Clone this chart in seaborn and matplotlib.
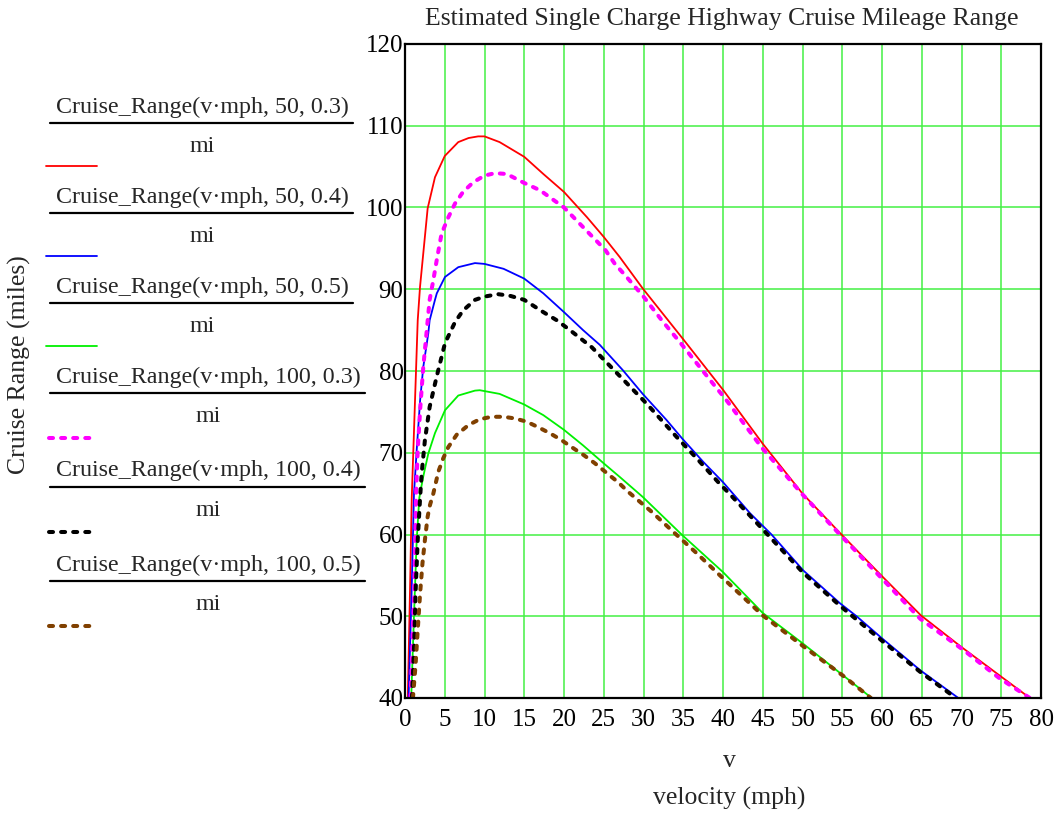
import matplotlib
matplotlib.use("Agg")
import matplotlib.pyplot as plt
import seaborn as sns
import pandas as pd
from matplotlib.lines import Line2D

# ---------------- data ----------------
title = "Estimated Single Charge Highway Cruise Mileage Range"
x_label_top = "v"
x_label = "velocity (mph)"
y_label = "Cruise Range (miles)"
x_ticks = list(range(0, 81, 5))
y_ticks = list(range(40, 121, 10))
unit_label = "mi"
series_labels = [
    "Cruise_Range(v\u00b7mph, 50, 0.3)",
    "Cruise_Range(v\u00b7mph, 50, 0.4)",
    "Cruise_Range(v\u00b7mph, 50, 0.5)",
    "Cruise_Range(v\u00b7mph, 100, 0.3)",
    "Cruise_Range(v\u00b7mph, 100, 0.4)",
    "Cruise_Range(v\u00b7mph, 100, 0.5)",
]

red_x = [0.35, 0.63, 0.85, 1.26, 1.6, 1.89, 2.3, 2.85, 3.77, 5.0, 6.7, 8.0, 9.2, 10.0, 11.9,
         15.0, 17.4, 20.0, 22.9, 25.0, 27.0, 29.9, 34.9, 40.0, 45.0, 50.0, 54.8, 59.9, 64.9,
         69.9, 75.0, 78.6]
red_y = [40.0, 53.2, 64.5, 76.4, 86.2, 90.3, 94.4, 99.9, 103.7, 106.3, 108.0, 108.5, 108.7,
         108.7, 108.0, 106.2, 104.1, 101.9, 98.8, 96.4, 93.95, 90.1, 84.0, 77.7, 71.1, 65.0,
         60.1, 55.0, 50.1, 46.3, 42.6, 40.0]

blue_x = [0.45, 0.84, 1.13, 1.47, 1.9, 2.3, 2.93, 3.1, 3.77, 4.0, 5.03, 6.7, 8.8, 10.0, 12.4,
          15.0, 17.4, 20.0, 22.4, 24.5, 27.4, 29.9, 32.9, 34.9, 37.5, 40.0, 43.4, 46.1, 50.1,
          54.7, 56.8, 60.0, 64.8, 69.6]
blue_y = [40.0, 53.2, 65.0, 70.3, 76.4, 80.5, 84.6, 86.2, 88.7, 89.5, 91.5, 92.7, 93.2, 93.1,
          92.5, 91.3, 89.5, 87.2, 85.0, 83.2, 80.1, 77.2, 74.0, 71.7, 68.9, 66.4, 62.6, 60.0,
          55.6, 51.6, 50.0, 47.3, 43.4, 40.0]

green_x = [0.78, 1.17, 1.47, 1.8, 2.3, 2.93, 3.77, 5.03, 6.7, 8.8, 9.4, 11.9, 15.0, 17.4,
           20.0, 22.4, 25.0, 27.0, 29.9, 34.9, 40.0, 45.0, 50.0, 54.8, 58.7]
green_y = [40.0, 51.2, 59.3, 64.5, 67.1, 69.9, 72.4, 75.2, 77.0, 77.6, 77.65, 77.2, 75.9, 74.6,
           72.8, 70.9, 68.7, 67.05, 64.6, 59.9, 55.4, 50.4, 46.7, 43.0, 40.0]

magenta_x = [0.7, 1.17, 1.4, 1.6, 1.9, 2.3, 2.7, 3.1, 3.56, 3.98, 4.6, 5.45, 6.3, 7.3, 8.6,
             10.0, 11.3, 12.8, 15.0, 17.0, 20.0, 22.6, 25.2, 26.4, 27.7, 30.0, 32.3, 34.6,
             36.9, 39.2, 40.3, 44.9, 50.0, 54.7, 60.2, 64.8, 70.2, 74.8, 78.6]
magenta_y = [40.0, 53.2, 65.0, 70.3, 75.2, 80.5, 84.6, 88.7, 91.1, 93.5, 96.8, 98.8, 100.5,
             101.9, 103.1, 103.9, 104.2, 104.1, 103.0, 102.1, 100.0, 97.4, 94.8, 93.1, 91.7,
             89.1, 86.2, 83.5, 80.7, 77.9, 76.6, 70.6, 64.9, 60.0, 54.4, 49.7, 45.9, 42.4, 40.0]

black_x = [0.88, 1.17, 1.34, 1.6, 1.9, 2.1, 2.5, 3.1, 3.98, 5.03, 6.3, 7.3, 8.8, 10.0, 11.7,
           13.2, 15.0, 17.4, 19.1, 20.75, 23.5, 24.9, 27.5, 30.4, 34.2, 36.9, 39.4, 40.7, 43.4,
           50.1, 54.7, 60.0, 64.8, 69.3]
black_y = [40.0, 47.1, 53.2, 59.3, 64.5, 67.5, 71.5, 75.6, 79.3, 83.4, 86.0, 87.4, 88.7, 89.1,
           89.4, 89.2, 88.7, 87.2, 86.2, 85.0, 82.9, 81.5, 78.9, 76.0, 71.9, 69.1, 66.4, 65.1,
           62.3, 55.3, 51.3, 47.0, 43.2, 40.0]

brown_x = [1.0, 1.34, 1.6, 1.9, 2.2, 2.5, 2.85, 3.14, 3.56, 4.2, 4.8, 5.45, 6.5, 8.0, 9.4, 10.9,
           12.4, 13.8, 15.3, 16.6, 18.2, 19.6, 21.1, 22.5, 23.9, 25.4, 26.8, 28.1, 31.0, 34.0,
           36.7, 39.4, 45.0, 50.0, 55.0, 58.6]
brown_y = [40.0, 44.2, 48.3, 52.8, 56.5, 59.3, 62.2, 63.6, 65.0, 67.7, 69.3, 70.7, 72.2, 73.4,
           74.1, 74.4, 74.4, 74.2, 73.8, 73.2, 72.4, 71.6, 70.6, 69.7, 68.7, 67.5, 66.4, 65.2,
           62.8, 60.1, 57.7, 55.2, 50.1, 46.4, 42.8, 40.0]

series_x = [red_x, blue_x, green_x, magenta_x, black_x, brown_x]
series_y = [red_y, blue_y, green_y, magenta_y, black_y, brown_y]

# ---------------- styles ----------------
colors = ["#ff0000", "#0000ff", "#00f000", "#ff00ff", "#000000", "#804000"]
dashed = [False, False, False, True, True, True]
W, H = 1063, 818
FS_AX = 18.5
FS_TICK = 18
FS_LEG = 17.3

sns.set_theme(style="white")
plt.rcParams["font.family"] = ["Liberation Serif", "DejaVu Serif"]
plt.rcParams["font.size"] = FS_TICK

fig = plt.figure(figsize=(W / 100, H / 100), dpi=100)
L, R, T, B = 405, 1041, 44, 698
ax = fig.add_axes([L / W, 1 - B / H, (R - L) / W, (B - T) / H])

for xs, ys, c, d in zip(series_x, series_y, colors, dashed):
    df = pd.DataFrame({"v": xs, "r": ys})
    if d:
        sns.lineplot(data=df, x="v", y="r", ax=ax, color=c, lw=2.9, sort=False,
                     estimator=None, errorbar=None, linestyle=(0, (1.0, 2.0)))
        ax.lines[-1].set_dash_capstyle("round")
    else:
        sns.lineplot(data=df, x="v", y="r", ax=ax, color=c, lw=1.3, sort=False,
                     estimator=None, errorbar=None)

ax.set_xlim(0, 80)
ax.set_ylim(40, 120)
ax.set_xticks(x_ticks)
ax.set_yticks(y_ticks)
ax.set_xticklabels([str(t) for t in x_ticks])
ax.set_yticklabels([str(t) for t in y_ticks])
ax.tick_params(axis="both", length=0, labelsize=FS_TICK, colors="black")
ax.tick_params(axis="x", pad=8)
ax.tick_params(axis="y", pad=1)
ax.grid(True, color="#44f044", lw=1.1)
ax.set_axisbelow(True)
for s in ax.spines.values():
    s.set_color("black")
    s.set_linewidth(1.6)
    s.set_visible(True)
ax.set_xlabel("")
ax.set_ylabel("")

# titles & labels
fig.text(722 / W, 1 - 25 / H, title, ha="center", va="baseline", fontsize=FS_AX)
fig.text(729 / W, 1 - 767 / H, x_label_top, ha="center", va="baseline", fontsize=FS_AX)
fig.text(729 / W, 1 - 805 / H, x_label, ha="center", va="baseline", fontsize=FS_AX)
fig.text(19 / W, 1 - 365 / H, y_label, ha="center", va="center", rotation=90, fontsize=FS_AX)

# legend (Mathcad-style fraction labels)
text_base = [113, 203, 293, 383, 476, 571]
rule_y = [123, 213, 303, 393, 487, 581]
mi_base = [152, 242, 332, 422, 516, 610]
sample_y = [166, 256, 346, 438, 532, 626]
for i, lab in enumerate(series_labels):
    wide = i >= 3
    x0, x1 = 50, (365 if wide else 353)
    cx = (x0 + x1) / 2 + 1
    fig.text(cx / W, 1 - text_base[i] / H, lab, ha="center", va="baseline", fontsize=FS_LEG)
    fig.add_artist(Line2D([x0 / W, x1 / W], [1 - rule_y[i] / H] * 2, color="black", lw=1.6))
    fig.text(cx / W, 1 - mi_base[i] / H, unit_label, ha="center", va="baseline", fontsize=FS_LEG)
    if dashed[i]:
        ln = Line2D([49 / W, 96 / W], [1 - sample_y[i] / H] * 2, color=colors[i], lw=2.9,
                    linestyle=(0, (1.0, 2.0)))
        ln.set_dash_capstyle("round")
    else:
        ln = Line2D([46 / W, 97 / W], [1 - sample_y[i] / H] * 2, color=colors[i], lw=1.3)
    fig.add_artist(ln)

fig.savefig("out.png", dpi=100, facecolor="white")
